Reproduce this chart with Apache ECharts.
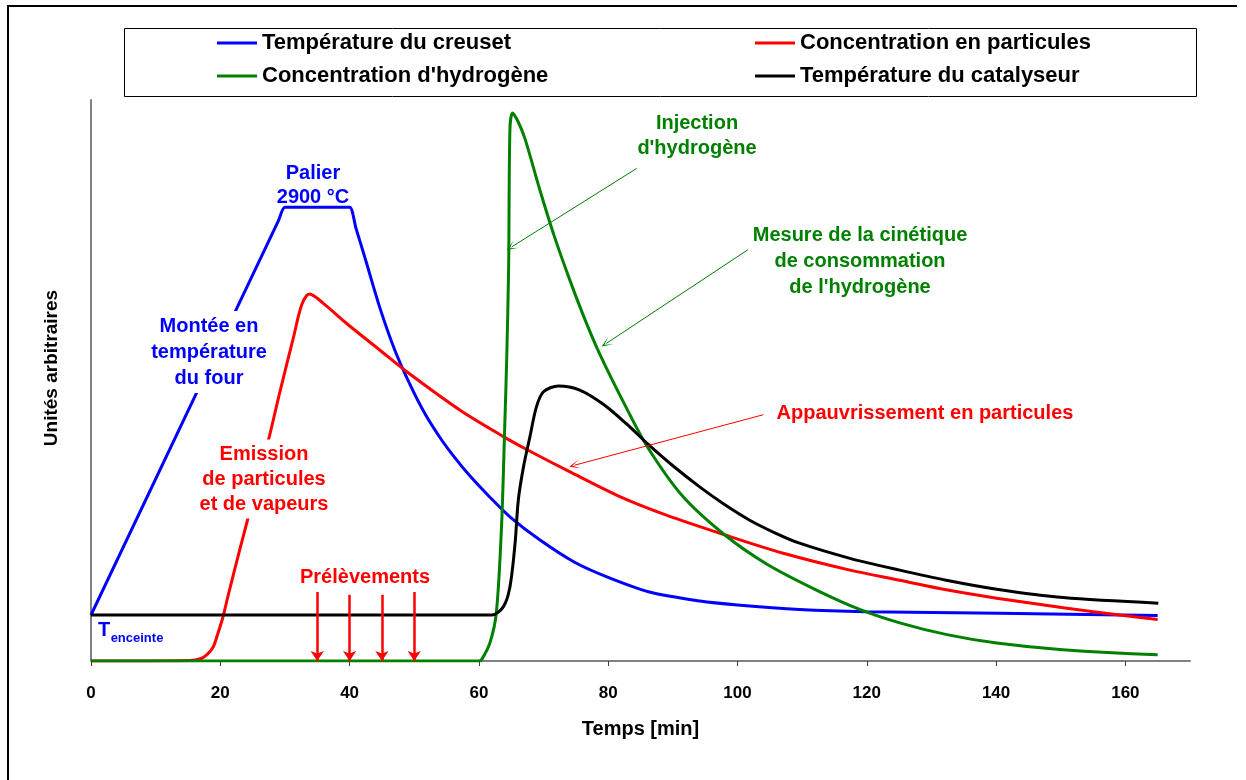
<!DOCTYPE html>
<html><head><meta charset="utf-8">
<script src="https://cdn.jsdelivr.net/npm/echarts@6/dist/echarts.min.js"></script>
<style>html,body{margin:0;padding:0;background:#fff}#c{width:1246px;height:780px}</style>
</head><body><div id="c"></div>
<script>
// ---- data (time in min, values in arbitrary units 0-100) ----
const xTicks = [0, 20, 40, 60, 80, 100, 120, 140, 160];

const creusetT = [0, 29, 30, 31, 39, 40, 41, 42.4, 44.7, 47.0, 49.3, 51.6, 54.0, 56.3, 58.6, 61.7, 64.8, 69.4, 74.8, 79.8, 86.4, 94.2, 100, 109.6, 119.8, 140.6, 165];
const creusetV = [8.2, 78.5, 80.9, 80.9, 80.9, 80.9, 77.1, 71.8, 62.9, 55.4, 49.4, 44.2, 39.8, 36.2, 33.0, 29.2, 25.7, 21.6, 17.6, 15.0, 12.3, 10.7, 10.0, 9.2, 8.8, 8.5, 8.1];

const particulesT = [0, 15.3, 16.9, 17.9, 18.9, 19.6, 20.4, 21.2, 23.0, 27.6, 29.2, 31.3, 32.6, 33.8, 35.9, 39.5, 44.7, 48.8, 57.1, 63.8, 67.4, 74.1, 81.8, 89.0, 98.0, 107.1, 117.4, 125.1, 132.3, 140.1, 150.4, 159.1, 165.0];
const particulesV = [0, 0.1, 0.4, 1.1, 2.5, 4.8, 7.8, 11.6, 19.8, 40.1, 47.9, 57.6, 63.5, 65.4, 63.8, 60.2, 55.4, 51.6, 44.7, 40.0, 37.7, 33.7, 29.3, 26.0, 22.5, 19.2, 16.2, 14.4, 12.7, 11.2, 9.5, 8.2, 7.4];

const hydrogeneT = [0, 60, 60.4, 61.7, 62.7, 63.5, 64.0, 64.3, 64.6, 64.8, 65.2, 66.0, 67.1, 69.4, 71.7, 74.1, 76.4, 78.7, 82.6, 86.1, 91.5, 98.0, 104.5, 112.3, 118.9, 125.1, 132.4, 140.1, 150.3, 165.0];
const hydrogeneV = [0, 0, 0.2, 3.2, 8.6, 23.9, 41.8, 53.7, 70.0, 94.7, 97.7, 96.3, 93.2, 84.1, 75.6, 67.8, 60.9, 54.7, 45.6, 38.1, 29.4, 22.5, 17.3, 12.6, 9.2, 6.8, 4.7, 3.2, 2.0, 1.1];

const catalyseurT = [0, 62, 63.8, 64.8, 65.6, 66.1, 66.9, 67.9, 68.9, 70, 72.3, 75.6, 79.2, 82.8, 86.2, 90.0, 94.2, 98.0, 101.9, 105.7, 109.6, 117.4, 125.1, 132.3, 140.1, 150.4, 165.1];
const catalyseurV = [8.2, 8.2, 9.7, 13.2, 21.0, 28.7, 34.6, 40.0, 45.3, 48.0, 49.0, 48.3, 45.8, 42.3, 38.6, 34.8, 31.0, 27.9, 25.1, 22.9, 21.0, 18.3, 16.2, 14.4, 12.8, 11.3, 10.3];

// sampling times (Prélèvements) and arrow tops
const prelevT = [35, 40, 45, 50];
const prelevTop = [12.3, 11.8, 11.8, 12.3];

// annotation arrows: [fromT, fromV, toT, toV]
const arrowInjection = [84.4, 87.8, 65.05, 73.8];
const arrowMesure = [101.6, 73.3, 79.7, 56.6];
const arrowAppauv = [104.0, 43.9, 74.8, 34.9];

const names = ['Température du creuset', 'Concentration en particules', "Concentration d'hydrogène", 'Température du catalyseur'];

// ---- chart ----
const zip = (a, b) => a.map((t, i) => [t, b[i]]);
const FONT = '"Liberation Sans", Arial, sans-serif';
const BLUE = '#0000ff', RED = '#ff0000', GREEN = '#008000', BLACK = '#000000';
const openArrow = 'path://M0,10 L5,0 L10,10 L5,3 Z';

function arrowLine(a) { return [{ coord: [a[0], a[1]] }, { coord: [a[2], a[3]] }]; }

function lineSeries(name, data, color, smooth, extra) {
  return Object.assign({
    name, type: 'line', data, smooth,
    symbol: 'none', showSymbol: false,
    lineStyle: { color, width: 3 }, itemStyle: { color },
    emphasis: { disabled: true }, silent: true, animation: false
  }, extra || {});
}

const chart = echarts.init(document.getElementById('c'), null, { renderer: 'canvas' });

const txt = (x, y, text, color, size, extra) => ({
  type: 'text', x, y, z: 100,
  style: Object.assign({
    text, fill: color, font: 'bold ' + size + 'px ' + FONT,
    fontSize: size, fontWeight: 'bold', fontFamily: FONT,
    align: 'center', verticalAlign: 'middle',
    textAlign: 'center', textVerticalAlign: 'middle'
  }, extra || {})
});

const legendCommon = {
  orient: 'vertical', top: 27, itemWidth: 40, itemHeight: 3, itemGap: 11, icon: 'rect',
  textStyle: { fontSize: 22, fontWeight: 'bold', fontFamily: FONT, color: '#000' }, selectedMode: false
};

chart.setOption({
  animation: false,
  backgroundColor: '#ffffff',
  grid: { left: 91, right: 56, top: 100, bottom: 119, containLabel: false, outerBoundsMode: 'none' },
  legend: [
    Object.assign({ data: [names[0], names[2]], left: 212 }, legendCommon),
    Object.assign({ data: [names[1], names[3]], left: 750 }, legendCommon)
  ],
  xAxis: {
    type: 'value', min: 0, max: 170, interval: 20,
    name: 'Temps [min]', nameLocation: 'middle', nameGap: 58,
    nameTextStyle: { fontSize: 20, fontWeight: 'bold', fontFamily: FONT, color: '#000' },
    axisLine: { show: true, lineStyle: { color: '#808080', width: 2 } },
    axisTick: { show: true, length: 5, inside: false, customValues: xTicks, lineStyle: { color: '#404040', width: 1 } },
    axisLabel: { customValues: xTicks, fontSize: 17, fontWeight: 'bold', fontFamily: FONT, color: '#000', margin: 24 },
    splitLine: { show: false }
  },
  yAxis: {
    type: 'value', min: 0, max: 100,
    axisLine: { show: true, lineStyle: { color: '#808080', width: 2 } },
    axisTick: { show: false }, axisLabel: { show: false }, splitLine: { show: false }
  },
  series: [
    lineSeries(names[0], zip(creusetT, creusetV), BLUE, 0.3),
    lineSeries(names[1], zip(particulesT, particulesV), RED, 0.3, {
      markLine: {
        silent: true, animation: false, label: { show: false },
        symbol: ['none', 'arrow'], symbolSize: [10, 10],
        lineStyle: { color: RED, width: 2.5, type: 'solid' },
        data: prelevT.map((t, i) => [{ coord: [t, prelevTop[i]] }, { coord: [t, 0] }])
      }
    }),
    lineSeries(names[2], zip(hydrogeneT, hydrogeneV), GREEN, 0.3, {
      markLine: {
        silent: true, animation: false, label: { show: false },
        symbol: ['none', openArrow], symbolSize: [9, 11],
        lineStyle: { color: GREEN, width: 1, type: 'solid' },
        data: [arrowLine(arrowInjection), arrowLine(arrowMesure)]
      }
    }),
    lineSeries(names[3], zip(catalyseurT, catalyseurV), BLACK, 0.3),
    {
      name: '_appauv', type: 'line', data: [], silent: true,
      markLine: {
        silent: true, animation: false, label: { show: false },
        symbol: ['none', openArrow], symbolSize: [9, 11],
        lineStyle: { color: RED, width: 1, type: 'solid' },
        data: [arrowLine(arrowAppauv)]
      }
    }
  ],
  graphic: [
    { type: 'polyline', z: 100, shape: { points: [[8, 780], [8, 6], [1237, 6]] }, style: { stroke: '#000', lineWidth: 2, fill: null } },
    { type: 'rect', z: 90, shape: { x: 124.5, y: 28.5, width: 1072, height: 68 }, style: { stroke: '#000', lineWidth: 1, fill: null } },
    txt(313, 185, 'Palier\n2900 °C', BLUE, 20, { lineHeight: 24 }),
    txt(209, 352, 'Montée en\ntempérature\ndu four', BLUE, 20, { lineHeight: 26, backgroundColor: '#ffffff', padding: [2, 2] }),
    txt(264, 479, 'Emission\nde particules\net de vapeurs', RED, 20, { lineHeight: 25, backgroundColor: '#ffffff', padding: [2, 2] }),
    txt(365, 577, 'Prélèvements', RED, 20),
    txt(697, 135.5, "Injection\nd'hydrogène", GREEN, 20, { lineHeight: 25 }),
    txt(860, 261, "Mesure de la cinétique\nde consommation\nde l'hydrogène", GREEN, 20, { lineHeight: 26 }),
    txt(925, 413, 'Appauvrissement en particules', RED, 20),
    txt(104, 630, 'T', BLUE, 20),
    txt(137, 638, 'enceinte', BLUE, 13),
    { type: 'text', x: 52, y: 368, rotation: Math.PI / 2, z: 100,
      style: { text: 'Unités arbitraires', fill: '#000', font: 'bold 19px ' + FONT, fontSize: 19, fontWeight: 'bold', fontFamily: FONT,
               align: 'center', verticalAlign: 'middle', textAlign: 'center', textVerticalAlign: 'middle' } }
  ]
});
</script></body></html>
